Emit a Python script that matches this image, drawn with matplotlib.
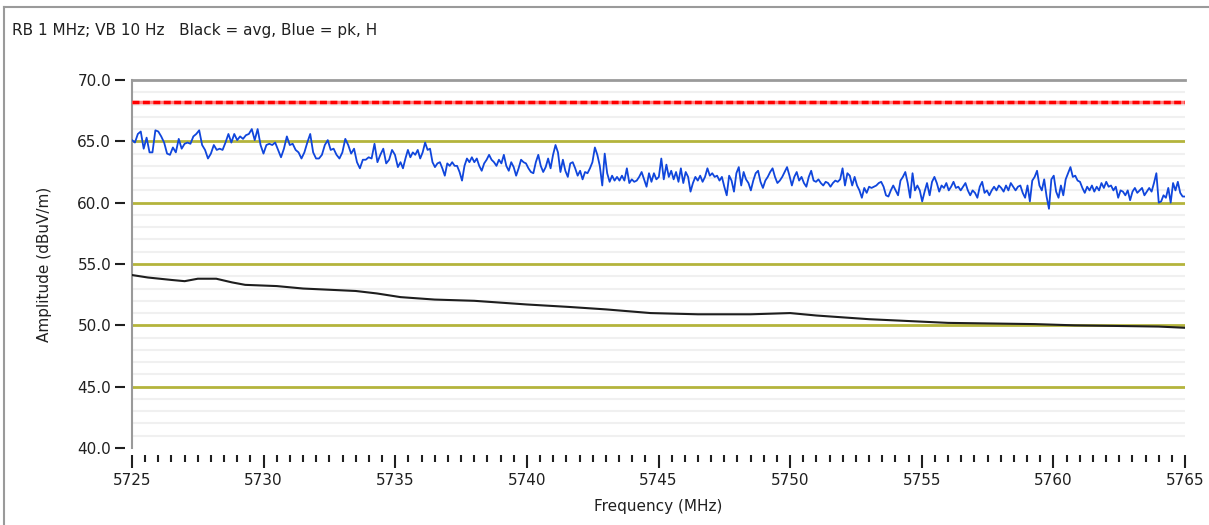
import numpy as np
import matplotlib.pyplot as plt
from matplotlib.ticker import MultipleLocator, FormatStrFormatter
from matplotlib.lines import Line2D

# average trace (black)
avg_freq = [5725, 5725.6, 5726.5, 5727.0, 5727.5, 5728.2, 5728.8, 5729.3, 5730.5, 5731.5,
            5732.5, 5733.5, 5734.3, 5735.2, 5736.5, 5738, 5740, 5741.6, 5743, 5744.7,
            5746.5, 5748.5, 5750, 5751, 5753, 5755, 5756, 5759.3, 5760.8, 5764, 5765]
avg_amp = [54.1, 53.9, 53.7, 53.6, 53.8, 53.8, 53.5, 53.3, 53.2, 53.0,
           52.9, 52.8, 52.6, 52.3, 52.1, 52.0, 51.7, 51.5, 51.3, 51.0,
           50.9, 50.9, 51.0, 50.8, 50.5, 50.3, 50.2, 50.1, 50.0, 49.9, 49.8]

# peak trace (blue), in four pieces of about 10 MHz each
pk_5725_5735 = [65.1, 64.9, 65.6, 65.8, 64.4, 65.3, 64.1, 64.1, 65.9, 65.8, 65.4, 64.9, 64.0, 63.9,
                64.5, 64.1, 65.2, 64.4, 64.8, 64.9, 64.8, 65.4, 65.6, 65.9, 64.7, 64.3, 63.6, 64.0,
                64.7, 64.3, 64.4, 64.3, 64.9, 65.6, 64.9, 65.6, 65.1, 65.4, 65.2, 65.5, 65.6, 66.0,
                65.1, 66.0, 64.7, 64.0, 64.7, 64.8, 64.7, 64.9, 64.3, 63.7, 64.4, 65.4, 64.7, 64.8,
                64.3, 64.1, 63.6, 64.1, 64.9, 65.6, 64.1, 63.6, 63.6, 63.9, 64.7, 65.1, 64.3, 64.4,
                63.9, 63.6, 64.1, 65.2, 64.7, 64.0, 64.4, 63.3, 62.8, 63.5, 63.5, 63.7, 63.6, 64.8,
                63.3, 63.9, 64.4, 63.2, 63.5, 64.3, 63.9, 62.9]
pk_5735_5745 = [63.3, 62.8, 63.6, 64.3, 63.7, 64.1, 63.9, 64.3, 63.6, 64.1, 64.9, 64.3, 64.4, 63.3,
                62.9, 63.2, 63.3, 62.8, 62.2, 63.2, 63.0, 63.3, 63.0, 63.0, 62.5, 61.8, 63.0, 63.6,
                63.3, 63.7, 63.3, 63.6, 63.0, 62.6, 63.2, 63.5, 63.9, 63.5, 63.3, 63.0, 63.5, 63.2,
                63.9, 63.0, 62.6, 63.3, 62.9, 62.2, 62.8, 63.5, 63.3, 63.2, 62.8, 62.5, 62.4, 63.3,
                63.9, 63.0, 62.5, 62.9, 63.6, 62.8, 63.9, 64.7, 64.1, 62.5, 63.5, 62.6, 62.1, 63.2,
                63.3, 62.8, 62.2, 62.6, 61.9, 62.5, 62.4, 62.8, 63.3, 64.5, 63.9, 63.0, 61.4, 64.0,
                62.4, 61.7, 62.2, 61.8, 62.1, 61.8, 62.2, 61.8, 62.8, 61.6, 61.9, 61.7, 61.8, 62.1,
                62.5, 61.9, 61.3, 62.4, 61.7, 62.4, 61.9, 62.1, 63.6, 61.9]
pk_5745_5755 = [63.1, 62.1, 62.6, 61.9, 62.5, 61.7, 62.8, 61.6, 62.5, 62.1, 60.9, 61.6, 62.1, 61.8,
                62.2, 61.7, 62.1, 62.8, 62.2, 62.4, 62.1, 62.2, 61.8, 62.1, 61.3, 60.6, 62.2, 61.8,
                60.9, 62.4, 62.9, 61.4, 62.5, 61.9, 61.6, 61.0, 61.8, 62.4, 62.6, 61.7, 61.2, 61.8,
                62.1, 62.5, 62.8, 62.1, 61.6, 61.8, 62.1, 62.5, 62.9, 62.2, 61.4, 62.1, 62.5, 61.8,
                62.1, 61.6, 61.3, 62.1, 62.6, 61.8, 61.7, 61.9, 61.6, 61.4, 61.7, 61.6, 61.3, 61.6,
                61.8, 61.7, 61.9, 62.8, 61.4, 62.4, 62.2, 61.4, 62.1, 61.4, 61.0, 60.4, 61.2, 60.8,
                61.3, 61.2, 61.3, 61.4, 61.6, 61.7, 61.3, 60.6, 60.5, 61.0, 61.4, 61.0, 60.6, 61.8,
                62.1, 62.5, 61.6, 60.4, 62.4, 61.0, 61.4, 61.0, 60.1, 60.9, 61.6]
pk_5755_5765 = [60.6, 61.7, 62.1, 61.6, 60.9, 61.4, 61.2, 61.6, 61.0, 61.3, 61.7, 61.2, 61.3, 61.0,
                61.3, 61.6, 61.0, 60.6, 61.0, 60.8, 60.4, 61.3, 61.7, 60.8, 61.0, 60.6, 61.0, 61.3,
                61.0, 61.4, 61.2, 60.9, 61.4, 61.0, 61.6, 61.3, 61.0, 61.3, 61.4, 60.8, 60.4, 61.4,
                60.1, 61.8, 62.1, 62.6, 61.4, 61.0, 61.9, 60.5, 59.5, 61.9, 62.2, 60.9, 60.4, 61.4,
                60.6, 61.9, 62.4, 62.9, 62.1, 62.2, 61.8, 61.7, 61.2, 60.8, 61.3, 61.0, 61.4, 60.9,
                61.3, 61.0, 61.6, 61.2, 61.7, 61.3, 61.4, 61.0, 61.3, 60.4, 61.0, 60.9, 60.6, 61.0,
                60.2, 60.9, 61.2, 60.8, 61.0, 61.2, 60.6, 60.9, 61.2, 60.9, 61.6, 62.4, 60.0, 60.1,
                60.6, 60.4, 61.2, 60.0, 61.6, 61.0, 61.7, 60.8, 60.5, 60.5]

limit_level = 68.2

pk_amp = pk_5725_5735 + pk_5735_5745 + pk_5745_5755 + pk_5755_5765
pk_freq = np.concatenate([
    np.linspace(5725.0, 5735.1, len(pk_5725_5735)),
    np.linspace(5735.2, 5745.2, len(pk_5735_5745)),
    np.linspace(5745.3, 5755.2, len(pk_5745_5755)),
    np.linspace(5755.3, 5765.0, len(pk_5755_5765)),
])

W, H = 1209, 525
fig = plt.figure(figsize=(W / 100, H / 100), dpi=100)
ax = fig.add_axes([132 / W, 1 - 448 / H, (1185 - 132) / W, (448 - 80) / H])

# window frame (top and left edge)
fig.add_artist(Line2D([4 / W, 4 / W], [0, 1 - 7 / H], transform=fig.transFigure, color='#9a9a9a', lw=1.5))
fig.add_artist(Line2D([4 / W, 1], [1 - 7 / H, 1 - 7 / H], transform=fig.transFigure, color='#9a9a9a', lw=1.5))

fig.text(12 / W, 1 - 30 / H, "RB 1 MHz; VB 10 Hz   Black = avg, Blue = pk, H",
         fontsize=11, va='center', ha='left', color='#202020')

ax.set_xlim(5725, 5765)
ax.set_ylim(40, 70)

minor_levels = [v for v in range(41, 70) if v % 5 != 0]
ax.hlines(minor_levels, 5725, 5765, color='#f0f0f0', lw=1.5, zorder=1)
ax.hlines(np.arange(45, 70, 5), 5725, 5765, color='#b4b43c', lw=2, zorder=2)

ax.axhline(limit_level, color='#ff8080', lw=2.5, zorder=3)
ax.axhline(limit_level, color='#ff0000', lw=2.5, ls=(0, (2, 1)), zorder=3)

ax.plot(avg_freq, avg_amp, color='#1e1e1e', lw=1.5, zorder=4)
ax.plot(pk_freq, pk_amp, color='#1046dc', lw=1.3, zorder=5)

ax.spines['right'].set_visible(False)
ax.spines['top'].set_color('#9a9a9a')
ax.spines['top'].set_linewidth(2)
ax.spines['left'].set_position(('outward', 5))
ax.spines['left'].set_color('none')
ax.spines['bottom'].set_position(('outward', 5))
ax.spines['bottom'].set_color('none')
ax.add_artist(Line2D([0, 0], [0, 1], transform=ax.transAxes, color='#9a9a9a', lw=1.5, clip_on=False))

ax.yaxis.set_major_locator(MultipleLocator(5))
ax.yaxis.set_major_formatter(FormatStrFormatter('%.1f'))
ax.xaxis.set_major_locator(MultipleLocator(5))
ax.xaxis.set_minor_locator(MultipleLocator(0.5))
ax.tick_params(axis='both', which='major', labelsize=11, colors='#202020', width=1.5)
ax.tick_params(axis='y', which='major', length=7, pad=3)
ax.tick_params(axis='x', which='major', length=9, pad=4)
ax.tick_params(axis='x', which='minor', length=5, width=1.5, color='#202020')

ax.set_xlabel("Frequency (MHz)", fontsize=11, color='#202020', labelpad=8)
ax.set_ylabel("Amplitude (dBuV/m)", fontsize=11, color='#202020', labelpad=18)

fig.savefig("out.png", dpi=100)
